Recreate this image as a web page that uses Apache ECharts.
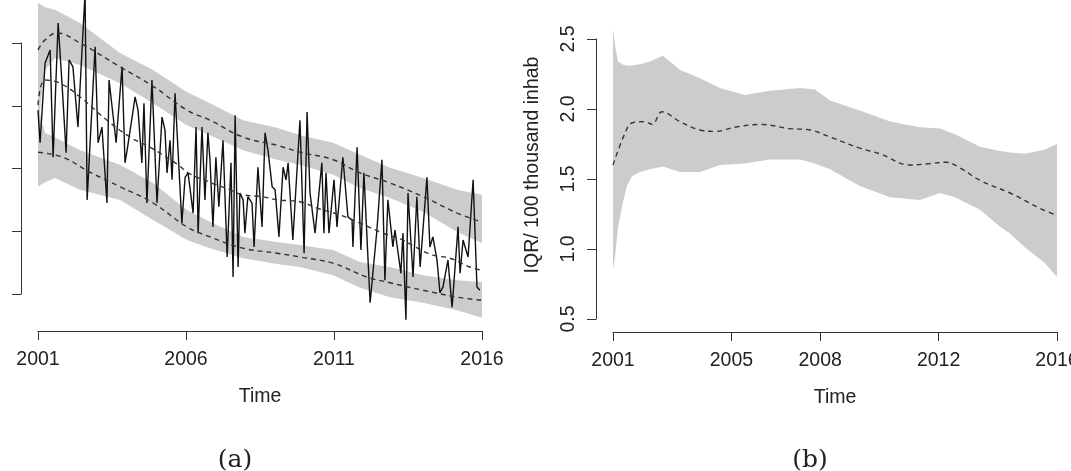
<!DOCTYPE html>
<html>
<head>
<meta charset="utf-8">
<title>IQR chart</title>
<script src="https://cdn.jsdelivr.net/npm/echarts@6.0.0/dist/echarts.min.js"></script>
<style>
  html, body { margin: 0; padding: 0; background: #fff; }
  #chart { width: 1071px; height: 471px; }
</style>
</head>
<body>
<div id="chart"></div>
<script>
// ---- panel (a): monthly series, quantile curves and their bands ----
var seriesT = [2001.00, 2001.07, 2001.24, 2001.41, 2001.51, 2001.68, 2001.81, 2001.95, 2002.05, 2002.18,
  2002.35, 2002.59, 2002.66, 2002.93, 2003.03, 2003.16, 2003.33, 2003.40, 2003.64, 2003.67,
  2003.84, 2003.94, 2004.01, 2004.18, 2004.28, 2004.38, 2004.51, 2004.58, 2004.68, 2004.85,
  2005.02, 2005.19, 2005.29, 2005.36, 2005.46, 2005.53, 2005.63, 2005.86, 2005.97, 2006.07,
  2006.24, 2006.34, 2006.41, 2006.54, 2006.64, 2006.74, 2006.81, 2006.91, 2007.01, 2007.11,
  2007.25, 2007.39, 2007.52, 2007.59, 2007.66, 2007.76, 2007.82, 2007.93, 2007.99, 2008.09,
  2008.23, 2008.30, 2008.43, 2008.57, 2008.67, 2008.77, 2008.91, 2009.01, 2009.14, 2009.28,
  2009.38, 2009.45, 2009.61, 2009.85, 2009.99, 2010.09, 2010.19, 2010.36, 2010.59, 2010.66,
  2010.73, 2010.83, 2011.00, 2011.10, 2011.30, 2011.47, 2011.61, 2011.64, 2011.78, 2011.91,
  2012.01, 2012.22, 2012.45, 2012.62, 2012.72, 2012.82, 2012.99, 2013.06, 2013.26, 2013.33,
  2013.43, 2013.50, 2013.67, 2013.80, 2013.91, 2014.14, 2014.24, 2014.34, 2014.48, 2014.58,
  2014.68, 2014.85, 2014.99, 2015.19, 2015.26, 2015.36, 2015.53, 2015.70, 2015.83, 2015.93]
var seriesV = [4.93, 4.41, 5.68, 5.89, 4.18, 6.32, 5.36, 4.25, 5.73, 5.62,
  4.66, 6.80, 3.50, 5.94, 4.41, 4.66, 3.45, 5.41, 4.41, 4.61,
  5.62, 4.09, 4.29, 4.82, 5.14, 4.93, 4.09, 5.04, 3.45, 5.41,
  3.45, 4.82, 4.61, 3.93, 4.45, 3.82, 5.20, 3.13, 3.86, 3.93,
  3.29, 4.66, 2.97, 4.66, 3.50, 4.57, 4.14, 3.07, 4.18, 3.39,
  4.45, 2.59, 4.09, 2.27, 4.85, 2.43, 3.61, 3.50, 2.97, 3.55,
  3.45, 2.75, 4.02, 3.07, 4.57, 4.29, 3.71, 3.66, 2.91, 4.02,
  3.82, 4.09, 2.86, 4.77, 2.65, 4.90, 3.61, 2.97, 4.09, 2.97,
  3.93, 2.97, 3.82, 3.07, 4.18, 3.23, 3.18, 2.75, 4.34, 2.70,
  3.93, 1.86, 3.02, 4.14, 2.22, 3.50, 2.75, 3.02, 2.33, 2.97,
  1.59, 3.61, 2.27, 3.55, 2.43, 3.86, 2.75, 2.91, 2.54, 2.02,
  2.11, 2.54, 1.79, 3.07, 2.33, 2.86, 2.59, 3.82, 2.11, 2.06]

var upperQT = [2001.00, 2001.24, 2001.64, 2002.42, 2003.77, 2004.89, 2006.03, 2006.81, 2007.93, 2009.07,
  2009.85, 2010.97, 2011.88, 2012.89, 2014.01, 2015.16, 2015.97]
var upperQV = [5.89, 6.05, 6.16, 6.00, 5.62, 5.31, 4.93, 4.77, 4.50, 4.37,
  4.26, 4.14, 3.93, 3.77, 3.55, 3.29, 3.15]
var midQT = [2001.00, 2001.24, 2001.74, 2002.42, 2003.33, 2004.11, 2004.78, 2005.73, 2006.07, 2006.81,
  2007.49, 2007.93, 2008.60, 2009.07, 2009.85, 2010.42, 2011.20, 2011.88, 2012.65, 2013.33,
  2013.74, 2014.34, 2014.92, 2015.59, 2015.97]
var midQV = [5.01, 5.41, 5.36, 5.14, 4.77, 4.50, 4.34, 4.06, 3.93, 3.78,
  3.66, 3.58, 3.55, 3.50, 3.47, 3.37, 3.26, 3.13, 2.97, 2.86,
  2.75, 2.62, 2.57, 2.43, 2.38]
var lowerQT = [2001.00, 2001.84, 2002.76, 2003.77, 2004.89, 2006.03, 2006.81, 2007.93, 2009.07, 2009.85,
  2010.97, 2012.11, 2012.89, 2014.01, 2015.16, 2015.97]
var lowerQV = [4.26, 4.18, 3.94, 3.71, 3.45, 3.07, 2.91, 2.73, 2.65, 2.59,
  2.49, 2.27, 2.18, 2.06, 1.95, 1.90]

var bandT = [2001.00, 2001.10, 2001.24, 2001.57, 2002.42, 2003.77, 2004.89, 2006.03, 2006.81, 2007.93,
  2009.07, 2009.85, 2010.97, 2011.88, 2012.89, 2014.01, 2015.16, 2016.00]
var upperBandTop = [6.64, 6.61, 6.57, 6.53, 6.32, 5.84, 5.57, 5.22, 5.04, 4.77, 4.65, 4.53, 4.41, 4.22, 4.01, 3.85, 3.66, 3.58]
var upperBandBottom = [4.53, 5.09, 5.57, 5.76, 5.65, 5.36, 5.04, 4.69, 4.53, 4.29, 4.14, 4.06, 3.90, 3.69, 3.53, 3.31, 2.99, 2.81]
var lowerBandTop = [5.17, 4.77, 4.57, 4.50, 4.29, 4.06, 3.77, 3.34, 3.15, 2.91, 2.83, 2.78, 2.70, 2.51, 2.43, 2.30, 2.22, 2.19]
var lowerBandBottom = [3.71, 3.74, 3.78, 3.85, 3.66, 3.50, 3.18, 2.86, 2.73, 2.57, 2.48, 2.43, 2.30, 2.10, 1.95, 1.86, 1.74, 1.62]

var xTicksA = [2001, 2006, 2011, 2016]

// ---- panel (b): IQR per 100 thousand inhabitants ----
var iqrT = [2001.00, 2001.07, 2001.17, 2001.30, 2001.47, 2001.64, 2001.91, 2002.25, 2002.69, 2003.26,
  2003.94, 2004.61, 2005.46, 2006.30, 2007.32, 2007.82, 2008.33, 2009.34, 2010.36, 2011.37,
  2012.05, 2012.55, 2013.40, 2014.07, 2014.41, 2014.92, 2015.59, 2016.00]
var iqrUpper = [2.57, 2.45, 2.34, 2.32, 2.31, 2.31, 2.32, 2.34, 2.38, 2.28,
  2.22, 2.15, 2.10, 2.13, 2.15, 2.14, 2.06, 1.99, 1.91, 1.87,
  1.86, 1.82, 1.73, 1.70, 1.69, 1.68, 1.71, 1.75]
var iqrLower = [0.85, 0.95, 1.15, 1.30, 1.45, 1.52, 1.55, 1.57, 1.59, 1.55,
  1.55, 1.60, 1.61, 1.64, 1.64, 1.61, 1.57, 1.45, 1.37, 1.35,
  1.40, 1.37, 1.28, 1.16, 1.11, 1.01, 0.90, 0.80]
var iqrMedT = [2001.00, 2001.41, 2001.64, 2002.08, 2002.32, 2002.66, 2003.26, 2003.94, 2004.45, 2005.12,
  2005.97, 2006.98, 2007.66, 2008.33, 2009.34, 2010.02, 2011.03, 2011.71, 2012.22, 2012.72,
  2013.40, 2014.41, 2015.43, 2016.00]
var iqrMedian = [1.60, 1.83, 1.90, 1.91, 1.89, 1.98, 1.91, 1.85, 1.84, 1.87,
  1.89, 1.86, 1.85, 1.80, 1.72, 1.68, 1.60, 1.61, 1.62, 1.58,
  1.49, 1.40, 1.29, 1.24]

var xTicksB = [2001, 2005, 2008, 2012, 2016]
var yTicksB = [0.5, 1.0, 1.5, 2.0, 2.5]

var FONT = 'Liberation Sans'
var INK = '#222'
var GREY = '#cccccc'

function zip (a, b) {
  return a.map(function (v, i) { return [v, b[i]] })
}

// grey band as one polygon, points go through the axis scales
function bandSeries (idx, times, lo, hi) {
  return {
    type: 'custom',
    xAxisIndex: idx,
    yAxisIndex: idx,
    silent: true,
    z: 1,
    data: times.map(function (t, i) { return [t, lo[i], hi[i]] }),
    encode: { x: 0, y: [1, 2] },
    renderItem: function (params, api) {
      if (params.dataIndex !== 0) return null
      var pts = []
      for (var i = 0; i < times.length; i++) pts.push(api.coord([times[i], hi[i]]))
      for (var j = times.length - 1; j >= 0; j--) pts.push(api.coord([times[j], lo[j]]))
      return { type: 'polygon', shape: { points: pts }, style: { fill: GREY } }
    }
  }
}

function dashed (idx, times, vals) {
  return {
    type: 'line',
    xAxisIndex: idx,
    yAxisIndex: idx,
    data: zip(times, vals),
    symbol: 'none',
    smooth: 0.4,
    clip: false,
    silent: true,
    z: 3,
    lineStyle: { color: '#333', width: 1.4, type: [5, 4] }
  }
}

function xAxisOf (idx, ticks, offset) {
  return {
    gridIndex: idx,
    type: 'value',
    min: 2001,
    max: 2016,
    offset: offset,
    axisLine: { lineStyle: { color: '#333', width: 1 } },
    axisTick: { length: 9, customValues: ticks, lineStyle: { color: '#333' } },
    axisLabel: {
      customValues: ticks,
      margin: 19,
      fontSize: 19.5,
      fontFamily: FONT,
      color: INK,
      formatter: function (v) { return '' + v }
    },
    splitLine: { show: false },
    name: 'Time',
    nameLocation: 'middle',
    nameGap: 56,
    nameTextStyle: { fontSize: 19.5, fontFamily: FONT, color: INK }
  }
}

var chart = echarts.init(document.getElementById('chart'))

chart.setOption({
  backgroundColor: '#fff',
  animation: false,
  grid: [
    { left: 38, top: 43, width: 444, height: 251, outerBoundsMode: 'none', containLabel: false },
    { left: 613, top: 39, width: 444, height: 280, outerBoundsMode: 'none', containLabel: false }
  ],
  xAxis: [
    xAxisOf(0, xTicksA, 37),
    xAxisOf(1, xTicksB, 13)
  ],
  yAxis: [
    {
      gridIndex: 0,
      type: 'value',
      min: 2,
      max: 6,
      interval: 1,
      offset: 17,
      axisLine: { show: true, lineStyle: { color: '#333', width: 1 } },
      axisTick: { show: true, length: 9, lineStyle: { color: '#333' } },
      axisLabel: { show: false },
      splitLine: { show: false }
    },
    {
      gridIndex: 1,
      type: 'value',
      min: 0.5,
      max: 2.5,
      interval: 0.5,
      offset: 17,
      axisLine: { show: true, lineStyle: { color: '#333', width: 1 } },
      axisTick: { show: true, length: 9, lineStyle: { color: '#333' } },
      axisLabel: {
        rotate: 90,
        margin: 17,
        fontSize: 19.5,
        fontFamily: FONT,
        color: INK,
        customValues: yTicksB,
        formatter: function (v) { return v.toFixed(1) }
      },
      splitLine: { show: false }
    }
  ],
  graphic: [
    {
      type: 'text',
      x: 533,
      y: 165,
      rotation: Math.PI / 2,
      style: { text: 'IQR/ 100 thousand inhab', fontSize: 19.5, fontFamily: FONT, fill: INK, align: 'center', verticalAlign: 'middle' }
    },
    {
      type: 'text',
      x: 235,
      y: 460,
      style: { text: '(a)', fontSize: 25, fontFamily: 'DejaVu Serif', fill: INK, align: 'center', verticalAlign: 'middle' }
    },
    {
      type: 'text',
      x: 810,
      y: 460,
      style: { text: '(b)', fontSize: 25, fontFamily: 'DejaVu Serif', fill: INK, align: 'center', verticalAlign: 'middle' }
    }
  ],
  series: [
    bandSeries(0, bandT, upperBandBottom, upperBandTop),
    bandSeries(0, bandT, lowerBandBottom, lowerBandTop),
    {
      type: 'line',
      xAxisIndex: 0,
      yAxisIndex: 0,
      data: zip(seriesT, seriesV),
      symbol: 'none',
      clip: false,
      silent: true,
      z: 2,
      lineStyle: { color: '#111', width: 1.4 }
    },
    dashed(0, upperQT, upperQV),
    dashed(0, midQT, midQV),
    dashed(0, lowerQT, lowerQV),
    bandSeries(1, iqrT, iqrLower, iqrUpper),
    dashed(1, iqrMedT, iqrMedian)
  ]
})
</script>
</body>
</html>
